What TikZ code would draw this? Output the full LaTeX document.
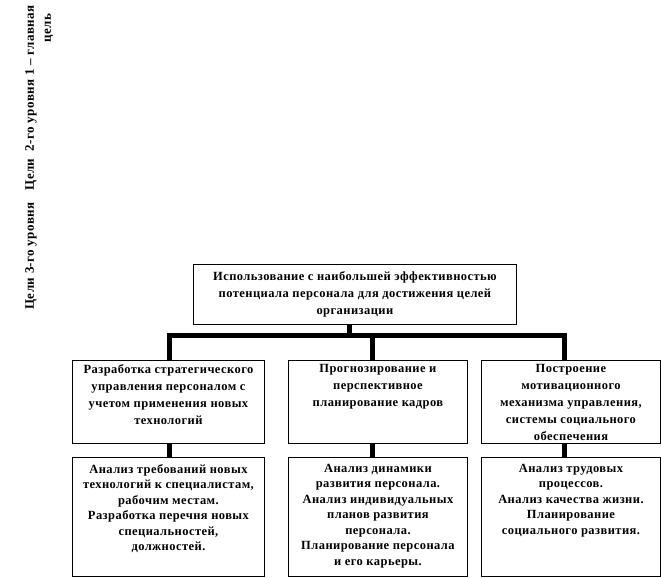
\documentclass[tikz,border=0pt]{standalone}
\usepackage{fontspec}
\setmainfont{Liberation Serif}
\newfontfamily\widefont[LetterSpace=3.5]{Liberation Serif}
\begin{document}
\begin{tikzpicture}[x=1pt,y=-1pt,
  box/.style={draw=black,line width=0.9pt,anchor=north west,inner sep=0pt},
  txt/.style={anchor=north,align=center,inner sep=0pt,font=\widefont\bfseries\fontsize{12.5}{17}\selectfont},
  txtb/.style={anchor=north,align=center,inner sep=0pt,font=\widefont\bfseries\fontsize{12.5}{15.5}\selectfont},
  lbl/.style={rotate=90,inner sep=0pt,font=\widefont\bfseries\fontsize{13}{14}\selectfont},
  conn/.style={line width=5pt,line join=miter,line cap=butt}]
\useasboundingbox (0,0) rectangle (661,578);
% side labels
\node[lbl] (lab1) at (31,256) {Цели 3-го уровня};
\node[lbl] (lab2) at (31,98) {Цели\ \ 2-го уровня 1 – главная};
\node[lbl] (lab3) at (49,28) {цель};
% boxes
\node[box,minimum width=323pt,minimum height=60pt] (top) at (193,264) {};
\node[box,minimum width=192pt,minimum height=83pt] (L2a) at (72,360) {};
\node[box,minimum width=179pt,minimum height=83pt] (L2b) at (288,360) {};
\node[box,minimum width=179pt,minimum height=83pt] (L2c) at (481,360) {};
\node[box,minimum width=192pt,minimum height=119pt] (L3a) at (72,457) {};
\node[box,minimum width=179pt,minimum height=119pt] (L3b) at (288,457) {};
\node[box,minimum width=179pt,minimum height=119pt] (L3c) at (481,457) {};
% texts
\node[txt,anchor=center] (topt) at (top.center) {Использование с наибольшей эффективностью\\потенциала персонала для достижения целей\\организации};
\node[txt] (L2at) at ([yshift=-4pt]L2a.north) {Разработка стратегического\\управления персоналом с\\учетом применения новых\\технологий};
\node[txt] (L2bt) at ([yshift=-4pt]L2b.north) {Прогнозирование и\\перспективное\\планирование кадров};
\node[txt] (L2ct) at ([yshift=-4pt]L2c.north) {Построение\\мотивационного\\механизма управления,\\системы социального\\обеспечения};
\node[txtb] (L3at) at ([yshift=-7pt]L3a.north) {Анализ требований новых\\технологий к специалистам,\\рабочим местам.\\Разработка перечня новых\\специальностей,\\должностей.};
\node[txtb] (L3bt) at ([yshift=-7pt]L3b.north) {Анализ динамики\\развития персонала.\\Анализ индивидуальных\\планов развития\\персонала.\\Планирование персонала\\и его карьеры.};
\node[txtb] (L3ct) at ([yshift=-7pt]L3c.north) {Анализ трудовых\\процессов.\\Анализ качества жизни.\\Планирование\\социального развития.};
% connectors
\coordinate (j0) at (349,335.5);
\coordinate (ja) at (169,335.5);
\coordinate (jb) at (372,335.5);
\coordinate (jc) at (564,335.5);
\draw[conn] (top.south -| j0) -- (j0);
\draw[conn] (L2a.north -| ja) -- (ja) -- (jc) -- (L2c.north -| jc);
\draw[conn] (jb) -- (L2b.north -| jb);
\draw[conn] (L2a.south -| ja) -- (L3a.north -| ja);
\draw[conn] (L2b.south -| jb) -- (L3b.north -| jb);
\draw[conn] (L2c.south -| jc) -- (L3c.north -| jc);
\end{tikzpicture}
\end{document}
